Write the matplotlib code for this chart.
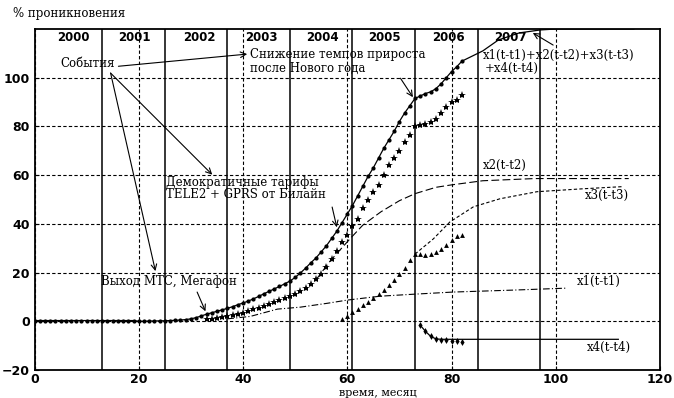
import numpy as np
import matplotlib
matplotlib.use("Agg")
import matplotlib.pyplot as plt

plt.rcParams['font.family'] = ['DejaVu Serif']

# monthly data (months 0..82)
months = list(range(0, 83))
total_dots = [0.3] * 20 + [
    0.0, 0.0, 0.1, 0.1, 0.2, 0.2, 0.3, 0.4, 0.5, 0.7,
    1.0, 1.5, 2.2, 2.9, 3.5, 4.1, 4.7, 5.3, 6.0, 6.8,
    7.5, 8.3, 9.2, 10.2, 11.3, 12.3, 13.3, 14.3, 15.4, 16.5,
    18.0, 19.8, 21.8, 24.0, 26.0, 28.5, 31.0, 34.0, 37.0, 40.5,
    44.0, 47.5, 51.5, 55.5, 59.5, 63.0, 67.0, 71.0, 74.5, 78.0,
    82.0, 85.5, 88.5, 91.5, 92.5, 93.5, 94.2, 95.5, 97.5, 100.0,
    102.5, 104.5, 106.8]
# model continuation of the sum curve
total_ext_x = [82, 86, 89, 93, 97, 100, 115]
total_ext_y = [106.8, 111.0, 115.5, 118.4, 119.6, 120.0, 120.0]

stars_x = list(range(33, 83))
stars_y = [0.8, 1.0, 1.3, 1.6, 2.0, 2.5, 3.0, 3.6, 4.2, 4.9,
           5.6, 6.3, 7.0, 7.8, 8.6, 9.5, 10.3, 11.3, 12.4, 13.8,
           15.2, 17.3, 19.5, 22.3, 25.5, 29.0, 32.5, 35.5, 39.0, 42.0,
           46.5, 50.0, 53.0, 56.0, 60.0, 64.0, 67.0, 70.0, 73.5, 76.5,
           80.0, 80.4, 81.0, 82.0, 83.0, 85.5, 88.0, 90.0, 91.0, 92.8]

tri_x = list(range(59, 83))
tri_y = [0.8, 2.0, 3.7, 5.0, 6.5, 7.8, 9.5, 11.0, 12.8, 14.8,
         17.0, 19.3, 22.0, 25.0, 27.5, 27.5, 27.3, 27.5, 28.3, 29.5,
         31.5, 33.5, 35.0, 35.5]

x4_dots_x = list(range(74, 83))
x4_dots_y = [-1.6, -4.1, -6.2, -7.4, -7.6, -7.8, -7.9, -8.2, -8.7]
x4_line_x = [74, 75, 76, 77, 78, 112]
x4_line_y = [-1.6, -4.1, -6.2, -7.2, -7.4, -7.4]

x1_x = [37, 41.4, 46.6, 51, 56.2, 60, 66.3, 72.6, 80.3, 91.8, 102]
x1_y = [1.0, 2.0, 5.0, 5.8, 7.4, 8.7, 10.3, 11.1, 12.0, 12.8, 13.6]

x2_x = [54, 56.7, 60.5, 63, 66.5, 70, 73, 77, 80, 86, 96, 114]
x2_y = [17.0, 24.7, 33.8, 39.5, 45.0, 49.5, 52.4, 55.0, 56.0, 57.7, 58.6, 58.6]

x3_x = [73, 76.5, 79.7, 84.2, 89.3, 96.4, 105.2, 113]
x3_y = [27.6, 33.8, 40.8, 47.0, 50.3, 53.2, 54.4, 55.3]

years = ['2000', '2001', '2002', '2003', '2004', '2005', '2006', '2007']
year_centers = [7.4, 19.2, 31.6, 43.6, 55.2, 67.2, 79.4, 91.2]
year_bounds = [13, 25, 37, 49, 61, 73, 85, 97]

fig = plt.figure(figsize=(6.74, 3.98), dpi=100)
ax = fig.add_axes([34.5 / 674, 28 / 398, 625.5 / 674, 341 / 398])
ax.set_xlim(0, 120)
ax.set_ylim(-20, 120)

ax.set_xticks([0, 20, 40, 60, 80, 100, 120])
ax.set_yticks([-20, 0, 20, 40, 60, 80, 100])
ax.tick_params(direction='in', length=3, width=0.8, labelsize=9)
ax.tick_params(axis='x', pad=2)
for lab in ax.get_xticklabels() + ax.get_yticklabels():
    lab.set_family('DejaVu Sans')
    lab.set_weight('bold')
ax.grid(True, color='black', linestyle=(0, (3, 2)), linewidth=0.8)
for s in ax.spines.values():
    s.set_linewidth(1.3)

for b in year_bounds:
    ax.axvline(b, color='black', linewidth=1.1, zorder=1)
for name, c in zip(years, year_centers):
    ax.text(c, 116.5, name, ha='center', va='center', fontsize=8.5,
            family='DejaVu Sans', weight='bold')

# model components
ax.plot(x1_x, x1_y, color='black', lw=0.8, linestyle=(0, (6, 2, 1, 2)))
ax.plot(x2_x, x2_y, color='black', lw=0.8, linestyle=(0, (7, 3)))
ax.plot(x3_x, x3_y, color='black', lw=0.8, linestyle=(0, (3, 2)))
ax.plot(x4_line_x, x4_line_y, color='black', lw=0.9)

# sum model + data
ax.plot(months, total_dots, color='black', lw=0.9)
ax.plot(total_ext_x, total_ext_y, color='black', lw=0.9)
ax.plot(months, total_dots, 'o', color='black', ms=2)
ax.plot(stars_x, stars_y, '*', color='black', ms=6, mew=0)
ax.plot(tri_x, tri_y, '^', color='black', ms=3.5, mew=0)
ax.plot(x4_dots_x, x4_dots_y, 'd', color='black', ms=3.5, mew=0)

fs = 8.5
ax.text(5.0, 106, 'События', fontsize=fs, va='center')
ax.text(41.4, 109.7, 'Снижение темпов прироста', fontsize=fs, va='center')
ax.text(41.4, 103.9, 'после Нового года', fontsize=fs, va='center')
ax.text(25.3, 56.9, 'Демократичные тарифы', fontsize=fs, va='center')
ax.text(25.3, 52.0, 'TELE2 + GPRS от Билайн', fontsize=fs, va='center')
ax.text(12.7, 16.5, 'Выход МТС, Мегафон', fontsize=fs, va='center')
ax.text(86.1, 109.3, 'x1(t-t1)+x2(t-t2)+x3(t-t3)', fontsize=fs, va='center')
ax.text(86.4, 103.9, '+x4(t-t4)', fontsize=fs, va='center')
ax.text(86.1, 63.9, 'x2(t-t2)', fontsize=fs, va='center')
ax.text(105.6, 51.5, 'x3(t-t3)', fontsize=fs, va='center')
ax.text(104.1, 16.5, 'x1(t-t1)', fontsize=fs, va='center')
ax.text(106.0, -10.7, 'x4(t-t4)', fontsize=fs, va='center')

arr = dict(arrowstyle='->', color='black', lw=0.8, shrinkA=0, shrinkB=0)
ax.annotate('', xy=(40.8, 109.7), xytext=(16.1, 104.7), arrowprops=arr)
ax.annotate('', xy=(34.1, 60.2), xytext=(14.6, 101.9), arrowprops=arr)
ax.annotate('', xy=(23.2, 20.6), xytext=(14.6, 101.9), arrowprops=arr)
ax.annotate('', xy=(72.6, 92.0), xytext=(70.2, 99.8), arrowprops=arr)
ax.annotate('', xy=(58.0, 38.6), xytext=(57.1, 46.9), arrowprops=arr)
ax.annotate('', xy=(32.8, 4.1), xytext=(31.2, 12.0), arrowprops=arr)
ax.annotate('', xy=(95.6, 118.4), xytext=(99.5, 113.4), arrowprops=arr)

fig.text(13 / 674, 1 - 14 / 398, '% проникновения', fontsize=8.5, va='center')
fig.text(378 / 674, 0.5 / 398, 'время, месяц', fontsize=8, ha='center', va='bottom')

fig.savefig('out.png', dpi=100)
